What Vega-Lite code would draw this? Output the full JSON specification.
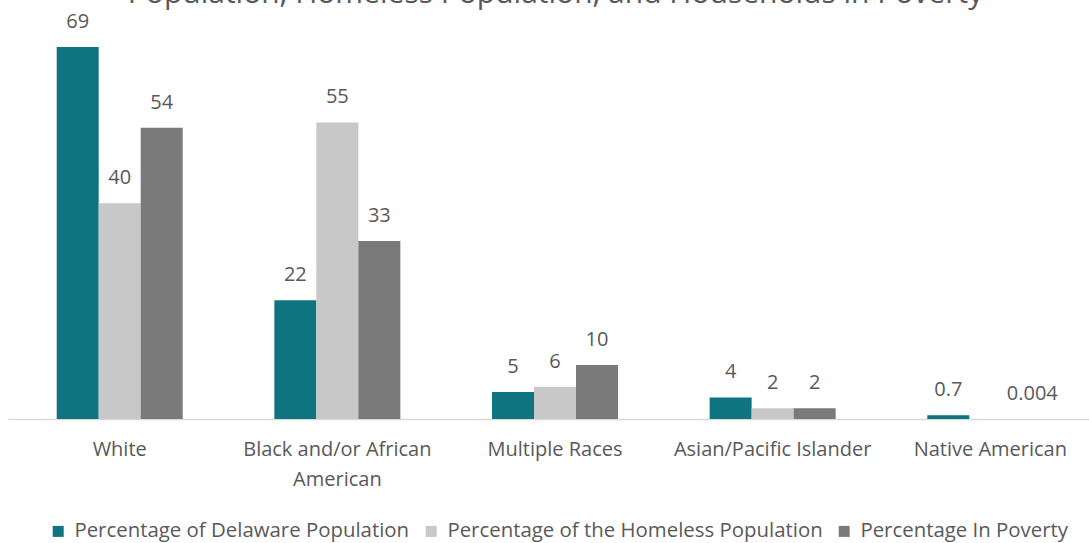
{
  "$schema": "https://vega.github.io/schema/vega-lite/v6.json",
  "autosize": {"type": "none"},
  "padding": {"top": 0, "left": 8, "right": 0, "bottom": 124},
  "width": 1081,
  "height": 419,
  "title": {
    "text": "Population, Homeless Population, and Households in Poverty",
    "font": "Open Sans",
    "fontSize": 30,
    "fontWeight": "normal",
    "color": "#595959",
    "anchor": "middle",
    "dx": 7,
    "offset": -9
  },
  "config": {
    "view": {"stroke": null},
    "font": "Open Sans"
  },
  "data": {
    "values": [
      {"race": "White", "series": "Percentage of Delaware Population", "value": 69, "label": "69"},
      {"race": "White", "series": "Percentage of the Homeless Population", "value": 40, "label": "40"},
      {"race": "White", "series": "Percentage In Poverty", "value": 54, "label": "54"},
      {"race": "Black and/or African American", "series": "Percentage of Delaware Population", "value": 22, "label": "22"},
      {"race": "Black and/or African American", "series": "Percentage of the Homeless Population", "value": 55, "label": "55"},
      {"race": "Black and/or African American", "series": "Percentage In Poverty", "value": 33, "label": "33"},
      {"race": "Multiple Races", "series": "Percentage of Delaware Population", "value": 5, "label": "5"},
      {"race": "Multiple Races", "series": "Percentage of the Homeless Population", "value": 6, "label": "6"},
      {"race": "Multiple Races", "series": "Percentage In Poverty", "value": 10, "label": "10"},
      {"race": "Asian/Pacific Islander", "series": "Percentage of Delaware Population", "value": 4, "label": "4"},
      {"race": "Asian/Pacific Islander", "series": "Percentage of the Homeless Population", "value": 2, "label": "2"},
      {"race": "Asian/Pacific Islander", "series": "Percentage In Poverty", "value": 2, "label": "2"},
      {"race": "Native American", "series": "Percentage of Delaware Population", "value": 0.7, "label": "0.7"},
      {"race": "Native American", "series": "Percentage In Poverty", "value": 0.004, "label": "0.004"}
    ]
  },
  "encoding": {
    "x": {
      "field": "race",
      "type": "nominal",
      "sort": ["White", "Black and/or African American", "Multiple Races", "Asian/Pacific Islander", "Native American"],
      "scale": {"paddingInner": 0.4211, "paddingOuter": 0.1939, "align": 0.577},
      "axis": {
        "title": null,
        "labelAngle": 0,
        "ticks": false,
        "domainColor": "#D9D9D9",
        "domainWidth": 1.5,
        "labelColor": "#595959",
        "labelFont": "Open Sans",
        "labelFontSize": 20,
        "labelPadding": 20,
        "labelLineHeight": 30,
        "labelLimit": 0,
        "labelExpr": "datum.label == 'Black and/or African American' ? ['Black and/or African', 'American'] : datum.label"
      }
    },
    "xOffset": {
      "field": "series",
      "type": "nominal",
      "sort": ["Percentage of Delaware Population", "Percentage of the Homeless Population", "Percentage In Poverty"],
      "scale": {"paddingInner": 0, "paddingOuter": 0}
    },
    "y": {
      "field": "value",
      "type": "quantitative",
      "scale": {"domain": [0, 77.7], "nice": false, "zero": true},
      "axis": null
    }
  },
  "layer": [
    {
      "mark": {"type": "bar"},
      "encoding": {
        "color": {
          "field": "series",
          "type": "nominal",
          "sort": ["Percentage of Delaware Population", "Percentage of the Homeless Population", "Percentage In Poverty"],
          "scale": {
            "domain": ["Percentage of Delaware Population", "Percentage of the Homeless Population", "Percentage In Poverty"],
            "range": ["#0E7480", "#C8C8C8", "#7A7A7A"]
          },
          "legend": {
            "title": null,
            "orient": "none",
            "direction": "horizontal",
            "legendX": 40,
            "legendY": 521,
            "padding": 0,
            "symbolType": "square",
            "symbolSize": 121,
            "symbolStrokeWidth": 0,
            "symbolOpacity": 1,
            "labelFont": "Open Sans",
            "labelFontSize": 20.4,
            "labelColor": "#595959",
            "labelOffset": 6,
            "labelLimit": 0,
            "columnPadding": 11
          }
        }
      }
    },
    {
      "mark": {"type": "text", "baseline": "alphabetic", "dy": -19, "font": "Open Sans", "fontSize": 20, "color": "#595959"},
      "encoding": {
        "text": {"field": "label", "type": "nominal"}
      }
    }
  ]
}
